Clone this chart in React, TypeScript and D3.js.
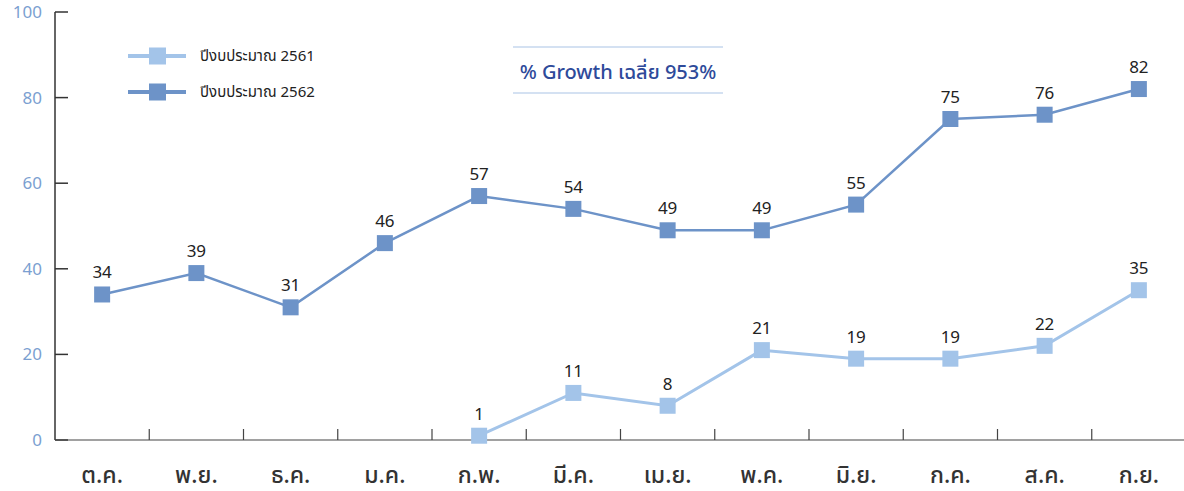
import React from "react";
import * as d3 from "d3";

const months = ["ต.ค.", "พ.ย.", "ธ.ค.", "ม.ค.", "ก.พ.", "มี.ค.", "เม.ย.", "พ.ค.", "มิ.ย.", "ก.ค.", "ส.ค.", "ก.ย."];
const values2561: (number | null)[] = [null, null, null, null, 1, 11, 8, 21, 19, 19, 22, 35];
const values2562: number[] = [34, 39, 31, 46, 57, 54, 49, 49, 55, 75, 76, 82];
const yTicks = [0, 20, 40, 60, 80, 100];
const seriesNames = ["ปีงบประมาณ 2561", "ปีงบประมาณ 2562"];
const titleText = "% Growth เฉลี่ย 953%";

const W = 1184;
const H = 491;
const FONT = "'Noto Sans', 'Noto Sans Thai', Roboto, 'DejaVu Sans', sans-serif";

export default function App() {
  const x = d3.scaleBand<string>().domain(months).range([55, 1186]).paddingInner(0).paddingOuter(0);
  const y = d3.scaleLinear().domain([0, 100]).range([440, 12]);
  const cx = (m: string) => (x(m) as number) + x.bandwidth() / 2;

  const line = d3
    .line<{ m: string; v: number | null }>()
    .defined((d) => d.v !== null)
    .x((d) => cx(d.m))
    .y((d) => y(d.v as number));

  const s1 = months.map((m, i) => ({ m, v: values2561[i] }));
  const s2 = months.map((m, i) => ({ m, v: values2562[i] as number | null }));

  const c1 = "#a3c4e9";
  const c2 = "#6d93c8";

  const series = [
    { data: s1, color: c1, width: 3, size: 16 },
    { data: s2, color: c2, width: 2.5, size: 16 },
  ];

  return (
    <svg width={W} height={H} style={{ display: "block", position: "absolute", left: 0, top: 0 }} fontFamily={FONT}>
      <rect width={W} height={H} fill="#ffffff" />
      {/* y axis */}
      <line x1={55} x2={55} y1={y(100)} y2={y(0)} stroke="#333" strokeWidth={1.5} />
      {yTicks.map((t) => (
        <g key={t}>
          <line x1={55} x2={68} y1={y(t)} y2={y(t)} stroke="#333" strokeWidth={1.5} />
          <text x={42} y={y(t)} dy="0.35em" textAnchor="end" fontSize={17} fill="#7b9fd1">
            {t}
          </text>
        </g>
      ))}
      {/* x axis */}
      <line x1={55} x2={W} y1={y(0)} y2={y(0)} stroke="#444" strokeWidth={1.2} />
      {months.slice(1).map((m) => (
        <line key={m} x1={x(m) as number} x2={x(m) as number} y1={y(0)} y2={y(0) - 11} stroke="#444" strokeWidth={1.2} />
      ))}
      {months.map((m) => (
        <text key={m} x={cx(m)} y={483} textAnchor="middle" fontSize={23} fontWeight={500} fill="#333">
          {m}
        </text>
      ))}
      {/* series */}
      {series.map((s, si) => (
        <g key={si}>
          <path d={line(s.data) || ""} fill="none" stroke={s.color} strokeWidth={s.width} />
          {s.data
            .filter((d) => d.v !== null)
            .map((d) => (
              <g key={d.m}>
                <rect x={cx(d.m) - s.size / 2} y={y(d.v as number) - s.size / 2} width={s.size} height={s.size} fill={s.color} />
                <text x={cx(d.m)} y={y(d.v as number) - 16} textAnchor="middle" fontSize={17} fill="#222">
                  {d.v}
                </text>
              </g>
            ))}
        </g>
      ))}
      {/* legend */}
      {[c1, c2].map((c, i) => (
        <g key={i} transform={`translate(0, ${56 + i * 36})`}>
          <line x1={128} x2={186} y1={0} y2={0} stroke={c} strokeWidth={4} />
          <rect x={149} y={-8.5} width={17} height={17} fill={c} />
          <text x={200} y={0} dy="0.35em" fontSize={15} fill="#222">
            {seriesNames[i]}
          </text>
        </g>
      ))}
      {/* title box */}
      <line x1={513} x2={723} y1={47} y2={47} stroke="#a9c4e6" strokeWidth={1.2} />
      <line x1={513} x2={723} y1={93} y2={93} stroke="#a9c4e6" strokeWidth={1.2} />
      <text x={618} y={72} dy="0.35em" textAnchor="middle" fontSize={20} fontWeight={500} fill="#2e4a9a">
        {titleText}
      </text>
    </svg>
  );
}
